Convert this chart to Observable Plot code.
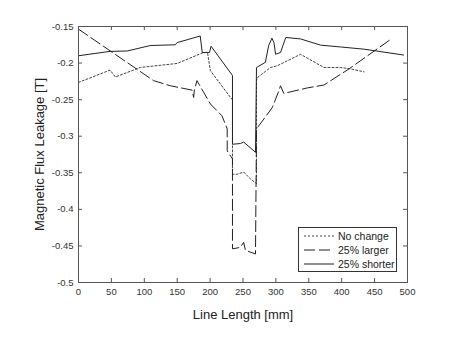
<!DOCTYPE html>
<html><head><meta charset="utf-8">
<script src="https://cdn.jsdelivr.net/npm/d3@7"></script>
<script src="https://cdn.jsdelivr.net/npm/@observablehq/plot@0.6"></script>
<style>
body{margin:0;background:#fff;font-family:"Liberation Sans",Arial,sans-serif;}
#wrap{position:relative;width:472px;height:338px;}
#legend{position:absolute;left:298px;top:227px;width:99px;height:45px;border:1px solid #333;background:#fff;box-sizing:border-box;font-size:10.5px;color:#222;}
#legend .row{position:absolute;left:5px;height:14px;display:flex;align-items:center;white-space:nowrap;}
#legend svg{margin-right:4px;}
</style></head>
<body><div id="wrap"><div id="legend"></div></div>
<script>
const seriesNames = ["No change", "25% larger", "25% shorter"];
const noChangeX = [0, 48, 56, 94, 150, 190, 196, 200.5, 231, 234, 234, 241, 251, 261, 270.5, 270.5, 271.5, 292, 302, 337.5, 373, 398, 413.6, 434];
const noChangeY = [-0.2265, -0.2096, -0.219, -0.206, -0.2005, -0.1855, -0.1855, -0.2105, -0.247, -0.250, -0.352, -0.352, -0.349, -0.358, -0.365, -0.224, -0.22, -0.206, -0.2037, -0.188, -0.206, -0.206, -0.208, -0.212];
const largerX = [0, 114, 139.6, 172.6, 175, 176, 180, 200.5, 218, 226, 226, 234, 234, 246, 251, 253.7, 269, 270.5, 294.4, 304.5, 307, 312, 347.6, 373, 411, 477];
const largerY = [-0.1536, -0.224, -0.231, -0.237, -0.247, -0.238, -0.224, -0.256, -0.272, -0.290, -0.320, -0.331, -0.454, -0.452, -0.445, -0.456, -0.461, -0.290, -0.261, -0.238, -0.231, -0.2415, -0.234, -0.23, -0.208, -0.166];
const shorterX = [0, 48, 74, 109, 147, 150, 185, 188, 199, 201.5, 234, 234, 246, 251, 269, 270.5, 284, 289, 294, 297, 299.5, 307, 315, 337.5, 368, 398.5, 434, 494];
const shorterY = [-0.190, -0.184, -0.1835, -0.176, -0.175, -0.172, -0.163, -0.1855, -0.1855, -0.177, -0.217, -0.311, -0.310, -0.308, -0.322, -0.206, -0.199, -0.176, -0.166, -0.172, -0.188, -0.1855, -0.165, -0.167, -0.1755, -0.178, -0.181, -0.189];
const xTicks = [0, 50, 100, 150, 200, 250, 300, 350, 400, 450, 500];
const xTickLabels = ["0", "50", "100", "150", "200", "250", "300", "350", "400", "450", "500"];
const yTicks = [-0.15, -0.2, -0.25, -0.3, -0.35, -0.4, -0.45, -0.5];
const yTickLabels = ["-0.15", "-0.2", "-0.25", "-0.3", "-0.35", "-0.4", "-0.45", "-0.5"];
const xTitle = "Line Length [mm]";
const yTitle = "Magnetic Flux Leakage [T]";

const styles = [
  {stroke: "#444", strokeWidth: 1, dash: "2,2"},
  {stroke: "#222", strokeWidth: 1, dash: "11,4"},
  {stroke: "#222", strokeWidth: 1, dash: null}
];
const toPts = (xs, ys) => xs.map((x, i) => ({x, y: ys[i]}));
const series = [toPts(noChangeX, noChangeY), toPts(largerX, largerY), toPts(shorterX, shorterY)];

const xDom = [0, 500], yDom = [-0.5, -0.15];
const tlx = 0.0055, tly = 6;
const xLab = d => xTickLabels[xTicks.indexOf(d)];
const yLab = d => yTickLabels[yTicks.indexOf(d)];

const chart = Plot.plot({
  width: 472, height: 338,
  marginLeft: 78, marginRight: 65, marginTop: 26, marginBottom: 56,
  style: {background: "#fff", fontFamily: "Liberation Sans, Arial, sans-serif", fontSize: "9.5px", color: "#333"},
  x: {domain: xDom, ticks: xTicks, tickFormat: xLab, tickSize: 0, tickPadding: 6, label: xTitle, labelAnchor: "center", labelOffset: 36, line: false},
  y: {domain: yDom, ticks: yTicks, tickFormat: yLab, tickSize: 0, tickPadding: 5, label: yTitle, labelAnchor: "center", labelOffset: 44, line: false},
  marks: [
    ...series.map((s, i) => Plot.line(s, {x: "x", y: "y", stroke: styles[i].stroke, strokeWidth: styles[i].strokeWidth, strokeDasharray: styles[i].dash, curve: "linear"})),
    Plot.ruleX(xTicks, {x: d => d, y1: yDom[0], y2: yDom[0] + tlx, stroke: "#555"}),
    Plot.ruleX(xTicks, {x: d => d, y1: yDom[1], y2: yDom[1] - tlx, stroke: "#555"}),
    Plot.ruleY(yTicks, {y: d => d, x1: xDom[0], x2: xDom[0] + tly, stroke: "#555"}),
    Plot.ruleY(yTicks, {y: d => d, x1: xDom[1], x2: xDom[1] - tly, stroke: "#555"}),
    Plot.frame({stroke: "#555"})
  ]
});
document.getElementById("wrap").prepend(chart);
chart.querySelectorAll("text").forEach(t => {
  t.setAttribute("fill", "#333");
  const s = t.textContent;
  if (s.includes("Line Length")) { t.textContent = xTitle; t.style.fontSize = "13px"; t.setAttribute("fill", "#222"); }
  else if (s.includes("Magnetic")) { t.textContent = yTitle; t.style.fontSize = "13px"; t.setAttribute("fill", "#222"); }
});

const leg = document.getElementById("legend");
seriesNames.forEach((name, i) => {
  const row = document.createElement("div");
  row.className = "row";
  row.style.top = (1 + i * 14) + "px";
  const s = d3.create("svg").attr("width", 30).attr("height", 10);
  s.append("line").attr("x1", 0).attr("x2", 30).attr("y1", 5).attr("y2", 5)
    .attr("stroke", styles[i].stroke).attr("stroke-width", 1)
    .attr("stroke-dasharray", styles[i].dash);
  row.appendChild(s.node());
  const sp = document.createElement("span");
  sp.textContent = name;
  row.appendChild(sp);
  leg.appendChild(row);
});
</script></body></html>
